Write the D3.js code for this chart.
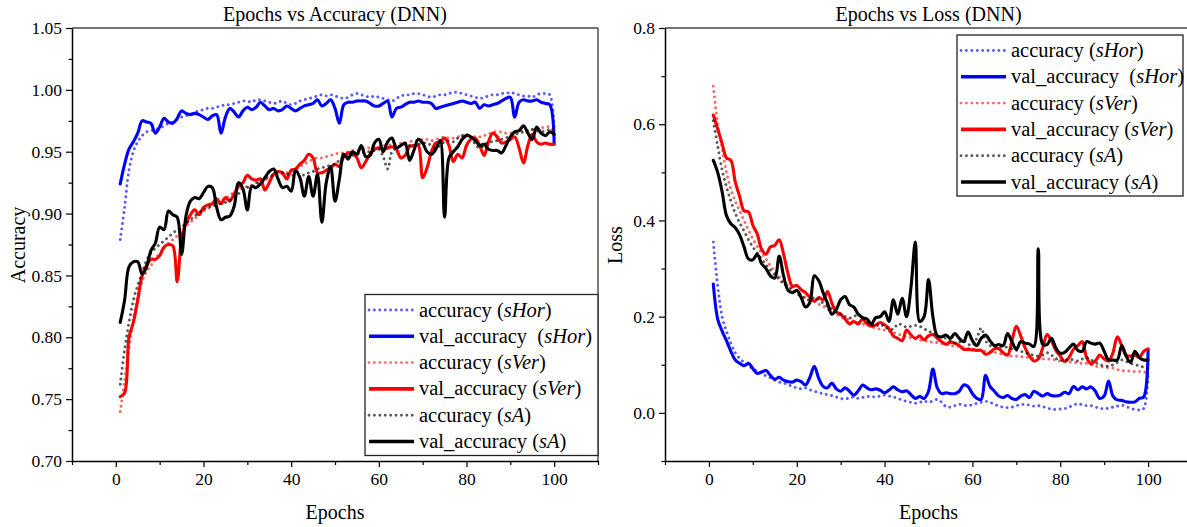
<!DOCTYPE html>
<html>
<head>
<meta charset="utf-8">
<script src="https://cdn.jsdelivr.net/npm/d3@7"></script>
<style>
  html, body { margin: 0; padding: 0; background: #fff; overflow: hidden; }
  svg { display: block; }
  text { font-family: "Liberation Serif", "Times New Roman", serif; fill: #000; }
</style>
</head>
<body>
<svg id="chart" width="1187" height="527"></svg>
<script>
// Training history of a DNN over 100 epochs for three datasets (sHor, sVer, sA)
const epochs = d3.range(1, 101);

// Accuracy curves
const accHorTrain = [0.879,0.905,0.935,0.950,0.958,0.963,0.966,0.967,0.968,0.969,0.971,0.973,0.974,0.976,0.978,0.979,0.980,0.982,0.983,0.984,0.985,0.985,0.986,0.987,0.988,0.988,0.989,0.990,0.991,0.991,0.990,0.992,0.992,0.991,0.990,0.989,0.990,0.991,0.989,0.988,0.989,0.991,0.992,0.993,0.994,0.995,0.996,0.995,0.996,0.995,0.994,0.993,0.994,0.996,0.997,0.996,0.995,0.994,0.995,0.994,0.993,0.992,0.991,0.993,0.995,0.996,0.996,0.997,0.997,0.996,0.995,0.994,0.995,0.996,0.996,0.997,0.998,0.998,0.997,0.996,0.995,0.994,0.993,0.994,0.995,0.996,0.996,0.997,0.997,0.998,0.997,0.996,0.995,0.995,0.994,0.996,0.997,0.997,0.996,0.968];
const accHorVal = [0.924,0.940,0.952,0.958,0.965,0.975,0.974,0.973,0.965,0.970,0.977,0.974,0.973,0.977,0.983,0.981,0.980,0.981,0.980,0.978,0.976,0.979,0.980,0.965,0.978,0.985,0.982,0.978,0.983,0.986,0.984,0.986,0.990,0.987,0.984,0.985,0.983,0.984,0.987,0.985,0.983,0.985,0.987,0.988,0.989,0.992,0.987,0.989,0.992,0.985,0.973,0.988,0.990,0.990,0.991,0.991,0.991,0.989,0.987,0.987,0.989,0.991,0.978,0.985,0.986,0.988,0.990,0.990,0.991,0.990,0.990,0.989,0.985,0.986,0.987,0.988,0.989,0.990,0.991,0.990,0.989,0.990,0.985,0.988,0.987,0.988,0.989,0.991,0.993,0.994,0.978,0.990,0.992,0.991,0.991,0.992,0.990,0.989,0.988,0.956];
const accVerTrain = [0.740,0.765,0.790,0.815,0.833,0.845,0.853,0.858,0.863,0.868,0.872,0.876,0.879,0.882,0.886,0.890,0.893,0.896,0.899,0.902,0.904,0.906,0.908,0.910,0.912,0.915,0.917,0.919,0.921,0.922,0.923,0.925,0.926,0.927,0.929,0.930,0.931,0.932,0.933,0.934,0.936,0.938,0.940,0.942,0.944,0.945,0.945,0.946,0.947,0.948,0.949,0.949,0.950,0.951,0.951,0.952,0.953,0.953,0.954,0.954,0.955,0.955,0.956,0.956,0.957,0.957,0.958,0.959,0.959,0.960,0.960,0.959,0.960,0.961,0.962,0.961,0.961,0.962,0.963,0.963,0.963,0.962,0.962,0.963,0.964,0.966,0.966,0.966,0.965,0.965,0.966,0.967,0.967,0.967,0.968,0.968,0.969,0.970,0.970,0.964];
const accVerVal = [0.752,0.755,0.800,0.812,0.830,0.850,0.858,0.863,0.863,0.866,0.873,0.875,0.874,0.845,0.880,0.892,0.899,0.903,0.899,0.905,0.907,0.908,0.912,0.908,0.913,0.910,0.916,0.922,0.925,0.931,0.928,0.927,0.928,0.919,0.925,0.932,0.934,0.933,0.928,0.935,0.936,0.940,0.943,0.948,0.945,0.933,0.933,0.935,0.937,0.940,0.938,0.946,0.949,0.949,0.945,0.937,0.942,0.948,0.952,0.953,0.952,0.953,0.954,0.952,0.945,0.947,0.954,0.955,0.955,0.929,0.937,0.950,0.957,0.958,0.961,0.955,0.942,0.948,0.945,0.955,0.960,0.961,0.955,0.947,0.958,0.965,0.962,0.957,0.958,0.960,0.962,0.953,0.941,0.955,0.964,0.958,0.956,0.957,0.956,0.956];
const accATrain = [0.762,0.790,0.812,0.830,0.842,0.852,0.862,0.868,0.872,0.875,0.878,0.881,0.884,0.887,0.889,0.892,0.895,0.898,0.901,0.903,0.905,0.906,0.907,0.908,0.909,0.911,0.913,0.916,0.919,0.921,0.922,0.924,0.926,0.928,0.930,0.931,0.932,0.933,0.932,0.931,0.931,0.932,0.931,0.933,0.934,0.936,0.937,0.938,0.939,0.940,0.943,0.945,0.946,0.947,0.948,0.949,0.950,0.950,0.951,0.952,0.946,0.936,0.950,0.953,0.955,0.956,0.955,0.954,0.956,0.957,0.957,0.955,0.953,0.955,0.958,0.959,0.958,0.961,0.963,0.964,0.962,0.956,0.953,0.955,0.958,0.958,0.959,0.960,0.961,0.963,0.964,0.965,0.966,0.967,0.968,0.967,0.966,0.967,0.968,0.968];
const accAVal = [0.812,0.830,0.857,0.861,0.861,0.851,0.857,0.870,0.876,0.889,0.887,0.902,0.899,0.897,0.867,0.898,0.910,0.913,0.912,0.917,0.922,0.921,0.905,0.895,0.897,0.898,0.906,0.925,0.920,0.903,0.922,0.921,0.924,0.929,0.934,0.936,0.928,0.921,0.922,0.918,0.935,0.929,0.914,0.930,0.914,0.932,0.893,0.925,0.938,0.910,0.928,0.948,0.944,0.950,0.948,0.955,0.946,0.947,0.957,0.960,0.950,0.958,0.961,0.953,0.955,0.957,0.943,0.951,0.960,0.957,0.950,0.948,0.952,0.959,0.897,0.945,0.950,0.954,0.960,0.963,0.962,0.959,0.955,0.956,0.952,0.951,0.951,0.949,0.955,0.962,0.966,0.967,0.971,0.965,0.960,0.970,0.965,0.963,0.966,0.964];

// Loss curves
const lossHorTrain = [0.355,0.264,0.200,0.170,0.145,0.125,0.113,0.105,0.098,0.092,0.087,0.082,0.077,0.073,0.068,0.064,0.062,0.059,0.055,0.052,0.050,0.052,0.048,0.045,0.042,0.040,0.038,0.036,0.033,0.030,0.029,0.031,0.033,0.030,0.032,0.034,0.034,0.033,0.035,0.037,0.035,0.033,0.030,0.027,0.024,0.022,0.020,0.022,0.025,0.022,0.025,0.028,0.022,0.013,0.012,0.015,0.018,0.016,0.015,0.017,0.020,0.022,0.024,0.022,0.018,0.014,0.012,0.011,0.012,0.015,0.017,0.018,0.016,0.014,0.015,0.013,0.010,0.008,0.007,0.008,0.009,0.012,0.016,0.019,0.017,0.015,0.015,0.012,0.010,0.008,0.010,0.012,0.014,0.016,0.013,0.010,0.007,0.006,0.009,0.080];
const lossHorVal = [0.268,0.195,0.170,0.150,0.128,0.110,0.103,0.098,0.103,0.092,0.082,0.085,0.088,0.078,0.070,0.074,0.068,0.065,0.064,0.068,0.065,0.058,0.074,0.097,0.072,0.055,0.052,0.062,0.050,0.045,0.052,0.045,0.037,0.046,0.058,0.052,0.048,0.050,0.047,0.042,0.047,0.054,0.048,0.044,0.046,0.038,0.030,0.034,0.030,0.045,0.091,0.052,0.040,0.042,0.040,0.040,0.045,0.058,0.055,0.040,0.030,0.028,0.078,0.055,0.045,0.035,0.032,0.036,0.030,0.028,0.035,0.038,0.032,0.045,0.040,0.035,0.040,0.036,0.035,0.037,0.043,0.040,0.055,0.048,0.054,0.050,0.054,0.045,0.030,0.035,0.066,0.035,0.027,0.026,0.023,0.022,0.023,0.030,0.033,0.132];
const lossVerTrain = [0.679,0.600,0.550,0.500,0.465,0.440,0.420,0.400,0.380,0.362,0.346,0.332,0.320,0.306,0.294,0.283,0.273,0.265,0.258,0.252,0.246,0.240,0.236,0.232,0.226,0.222,0.216,0.210,0.205,0.200,0.196,0.194,0.191,0.188,0.185,0.182,0.179,0.176,0.174,0.172,0.170,0.167,0.164,0.161,0.158,0.156,0.154,0.152,0.150,0.148,0.147,0.146,0.144,0.142,0.140,0.139,0.138,0.136,0.134,0.133,0.131,0.130,0.128,0.127,0.126,0.124,0.122,0.120,0.118,0.118,0.117,0.116,0.115,0.114,0.113,0.112,0.112,0.111,0.110,0.108,0.107,0.106,0.105,0.104,0.103,0.103,0.100,0.097,0.096,0.095,0.094,0.093,0.090,0.088,0.087,0.087,0.086,0.086,0.085,0.083];
const lossVerVal = [0.619,0.590,0.560,0.530,0.525,0.480,0.450,0.420,0.418,0.390,0.372,0.340,0.330,0.345,0.348,0.360,0.330,0.290,0.263,0.265,0.256,0.250,0.240,0.232,0.240,0.235,0.252,0.228,0.210,0.205,0.195,0.185,0.190,0.185,0.195,0.185,0.180,0.183,0.188,0.183,0.175,0.160,0.155,0.150,0.172,0.162,0.155,0.160,0.152,0.160,0.163,0.155,0.148,0.143,0.147,0.145,0.140,0.132,0.132,0.131,0.130,0.130,0.122,0.125,0.133,0.134,0.125,0.120,0.150,0.180,0.160,0.135,0.118,0.108,0.112,0.135,0.163,0.150,0.130,0.118,0.107,0.115,0.132,0.140,0.148,0.115,0.102,0.108,0.120,0.112,0.108,0.125,0.158,0.140,0.120,0.118,0.120,0.115,0.128,0.133];
const lossATrain = [0.607,0.555,0.505,0.470,0.440,0.415,0.395,0.378,0.360,0.345,0.332,0.320,0.308,0.297,0.287,0.278,0.268,0.262,0.255,0.248,0.242,0.238,0.234,0.240,0.235,0.228,0.222,0.216,0.210,0.205,0.200,0.197,0.200,0.205,0.198,0.190,0.184,0.180,0.185,0.178,0.175,0.174,0.185,0.183,0.178,0.180,0.182,0.180,0.175,0.170,0.165,0.160,0.157,0.155,0.150,0.145,0.147,0.150,0.143,0.140,0.155,0.176,0.150,0.140,0.138,0.137,0.138,0.136,0.133,0.130,0.128,0.125,0.122,0.120,0.118,0.120,0.125,0.120,0.113,0.110,0.108,0.112,0.110,0.108,0.112,0.115,0.110,0.105,0.100,0.098,0.097,0.100,0.105,0.110,0.107,0.103,0.100,0.098,0.095,0.093];
const lossAVal = [0.525,0.500,0.460,0.410,0.393,0.385,0.370,0.345,0.320,0.318,0.330,0.310,0.300,0.285,0.280,0.326,0.285,0.255,0.250,0.255,0.240,0.220,0.230,0.285,0.275,0.250,0.228,0.205,0.215,0.235,0.242,0.225,0.220,0.205,0.198,0.195,0.185,0.198,0.200,0.210,0.190,0.235,0.205,0.238,0.200,0.260,0.355,0.190,0.200,0.277,0.200,0.160,0.158,0.162,0.155,0.165,0.155,0.148,0.168,0.150,0.140,0.155,0.162,0.150,0.140,0.142,0.140,0.165,0.148,0.132,0.148,0.145,0.143,0.138,0.341,0.143,0.142,0.155,0.135,0.124,0.126,0.135,0.143,0.130,0.128,0.148,0.145,0.143,0.145,0.128,0.110,0.110,0.110,0.140,0.118,0.105,0.128,0.115,0.110,0.110];

// Axis ticks
const xMajorTicks = [0, 20, 40, 60, 80, 100];
const xMinorTicks = [-10, 10, 30, 50, 70, 90, 110];
const accMajorTicks = [0.70, 0.75, 0.80, 0.85, 0.90, 0.95, 1.00, 1.05];
const accMinorTicks = [0.725, 0.775, 0.825, 0.875, 0.925, 0.975, 1.025];
const lossMajorTicks = [0.0, 0.2, 0.4, 0.6, 0.8];
const lossMinorTicks = [-0.1, 0.1, 0.3, 0.5, 0.7];

// Legend entries
const legendPrefix = ["accuracy (", "val_accuracy  (", "accuracy (", "val_accuracy (", "accuracy (", "val_accuracy ("];
const legendItalic = ["sHor", "sHor", "sVer", "sVer", "sA", "sA"];

const seriesStyles = [
  { color: "#0000ff", opacity: 0.65, dotted: true },
  { color: "#0000ff", opacity: 1, dotted: false },
  { color: "#ff0000", opacity: 0.6, dotted: true },
  { color: "#ff0000", opacity: 1, dotted: false },
  { color: "#000000", opacity: 0.65, dotted: true },
  { color: "#000000", opacity: 1, dotted: false }
];

const svg = d3.select("#chart");

function applyStroke(sel, st) {
  sel.attr("fill", "none")
    .attr("stroke", st.color)
    .attr("stroke-opacity", st.opacity)
    .attr("stroke-linecap", "round")
    .attr("stroke-linejoin", "round");
  if (st.dotted) {
    sel.attr("stroke-width", 2.9).attr("stroke-dasharray", "0.01 5.4");
  } else {
    sel.attr("stroke-width", 3.1);
  }
}

function drawPanel(cfg) {
  const g = svg.append("g");
  const x = d3.scaleLinear().domain([-10, 110]).range([cfg.left, cfg.right]);
  const y = d3.scaleLinear().domain(cfg.yDomain).range([461, 28]);

  // frame (top and right)
  g.append("line").attr("x1", cfg.left).attr("x2", cfg.right).attr("y1", 28).attr("y2", 28)
    .attr("stroke", "#444").attr("stroke-width", 1.4);
  g.append("line").attr("x1", cfg.right).attr("x2", cfg.right).attr("y1", 28).attr("y2", 461)
    .attr("stroke", "#444").attr("stroke-width", 1.4);

  // x axis
  g.append("g").attr("transform", "translate(0,461)")
    .call(d3.axisBottom(x).tickValues(xMajorTicks).tickSize(6).tickSizeOuter(0).tickPadding(6).tickFormat(d3.format("d")));
  g.append("g").attr("transform", "translate(0,461)")
    .call(d3.axisBottom(x).tickValues(xMinorTicks).tickSize(4).tickSizeOuter(0).tickFormat(""))
    .select(".domain").remove();

  // y axis
  g.append("g").attr("transform", `translate(${cfg.left},0)`)
    .call(d3.axisLeft(y).tickValues(cfg.majorTicks).tickSize(6).tickSizeOuter(0).tickPadding(4).tickFormat(d3.format(cfg.fmt)));
  g.append("g").attr("transform", `translate(${cfg.left},0)`)
    .call(d3.axisLeft(y).tickValues(cfg.minorTicks).tickSize(3.5).tickSizeOuter(0).tickFormat(""))
    .select(".domain").remove();

  g.selectAll(".domain").attr("stroke", "#000").attr("stroke-width", 1.5);
  g.selectAll(".tick line").attr("stroke", "#000").attr("stroke-width", 1.2);
  g.selectAll(".tick text").attr("font-family", "Liberation Serif, Times New Roman, serif")
    .attr("font-size", 17.5).attr("fill", "#000");

  // titles
  g.append("text").attr("x", (cfg.left + cfg.right) / 2).attr("y", 21)
    .attr("text-anchor", "middle").attr("font-size", 20).text(cfg.title);
  g.append("text").attr("x", (cfg.left + cfg.right) / 2).attr("y", 519)
    .attr("text-anchor", "middle").attr("font-size", 20).text("Epochs");
  g.append("text").attr("transform", `translate(${cfg.yLabelX},245) rotate(-90)`)
    .attr("text-anchor", "middle").attr("font-size", 20).text(cfg.yLabel);

  // series
  const line = d3.line()
    .x((d, i) => x(epochs[i]))
    .y(d => y(d))
    .curve(d3.curveCatmullRom.alpha(0.5));
  cfg.series.forEach((vals, k) => {
    const p = g.append("path").datum(vals).attr("d", line);
    applyStroke(p, seriesStyles[k]);
  });

  // legend
  const lg = svg.append("g");
  lg.append("rect").attr("x", cfg.legend.x).attr("y", cfg.legend.y)
    .attr("width", cfg.legend.w).attr("height", cfg.legend.h)
    .attr("fill", "#fff").attr("stroke", "#222").attr("stroke-width", 1.3);
  legendPrefix.forEach((pre, i) => {
    const cy = cfg.legend.y + 15.5 + i * 26.3;
    const sx = cfg.legend.x + 3;
    const ln = lg.append("line").attr("x1", sx + 1).attr("x2", sx + 46).attr("y1", cy).attr("y2", cy);
    applyStroke(ln, seriesStyles[i]);
    if (!seriesStyles[i].dotted) ln.attr("stroke-width", 3.6).attr("stroke-linecap", "butt");
    const t = lg.append("text").attr("x", sx + 51).attr("y", cy + 6.5)
      .attr("font-size", 20.5).style("white-space", "pre");
    t.append("tspan").text(pre);
    t.append("tspan").attr("font-style", "italic").text(legendItalic[i]);
    t.append("tspan").text(")");
  });
}

drawPanel({
  left: 72, right: 598,
  yDomain: [0.70, 1.05],
  majorTicks: accMajorTicks, minorTicks: accMinorTicks, fmt: ".2f",
  title: "Epochs vs Accuracy (DNN)", yLabel: "Accuracy", yLabelX: 25,
  series: [accHorTrain, accHorVal, accVerTrain, accVerVal, accATrain, accAVal],
  legend: { x: 365, y: 294.5, w: 233, h: 161 }
});

drawPanel({
  left: 665, right: 1192,
  yDomain: [-0.1, 0.8],
  majorTicks: lossMajorTicks, minorTicks: lossMinorTicks, fmt: ".1f",
  title: "Epochs vs Loss (DNN)", yLabel: "Loss", yLabelX: 622,
  series: [lossHorTrain, lossHorVal, lossVerTrain, lossVerVal, lossATrain, lossAVal],
  legend: { x: 957, y: 35, w: 226, h: 161 }
});
</script>
</body>
</html>
